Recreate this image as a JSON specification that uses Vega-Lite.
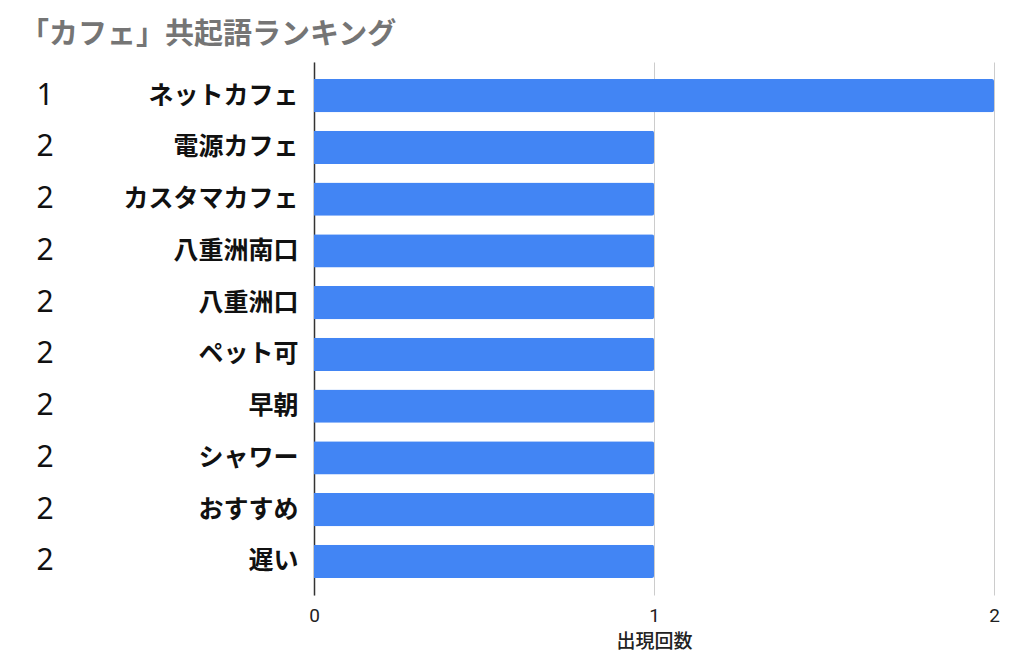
{
  "$schema": "https://vega.github.io/schema/vega-lite/v6.json",
  "width": 680,
  "height": 533,
  "autosize": {"type": "none"},
  "padding": {"left": 314, "top": 62, "right": 30, "bottom": 61},
  "background": "white",
  "title": {
    "text": "「カフェ」共起語ランキング",
    "anchor": "start",
    "frame": "group",
    "dx": -294,
    "offset": 12,
    "font": "Noto Sans CJK JP",
    "fontSize": 29,
    "fontWeight": "bold",
    "color": "#757575"
  },
  "data": {
    "values": [
      {"key": "1|ネットカフェ", "rank": 1, "term": "ネットカフェ", "count": 2},
      {"key": "2|電源カフェ", "rank": 2, "term": "電源カフェ", "count": 1},
      {"key": "2|カスタマカフェ", "rank": 2, "term": "カスタマカフェ", "count": 1},
      {"key": "2|八重洲南口", "rank": 2, "term": "八重洲南口", "count": 1},
      {"key": "2|八重洲口", "rank": 2, "term": "八重洲口", "count": 1},
      {"key": "2|ペット可", "rank": 2, "term": "ペット可", "count": 1},
      {"key": "2|早朝", "rank": 2, "term": "早朝", "count": 1},
      {"key": "2|シャワー", "rank": 2, "term": "シャワー", "count": 1},
      {"key": "2|おすすめ", "rank": 2, "term": "おすすめ", "count": 1},
      {"key": "2|遅い", "rank": 2, "term": "遅い", "count": 1}
    ]
  },
  "config": {"view": {"stroke": null}},
  "layer": [
    {
      "mark": {"type": "bar", "color": "#4285F4", "cornerRadiusEnd": 2},
      "encoding": {
        "y": {
          "field": "key",
          "type": "nominal",
          "sort": null,
          "scale": {"paddingInner": 0.36, "paddingOuter": 0.33},
          "axis": {
            "title": null,
            "orient": "left",
            "labelExpr": "split(datum.value, '|')[1]",
            "ticks": false,
            "labelPadding": 16,
            "labelFont": "Noto Sans CJK JP",
            "labelFontSize": 25,
            "labelFontWeight": "bold",
            "labelColor": "#111111",
            "domainColor": "#333333",
            "domainWidth": 1.5,
            "grid": false
          }
        },
        "x": {
          "field": "count",
          "type": "quantitative",
          "scale": {"domain": [0, 2], "nice": false},
          "axis": {
            "title": "出現回数",
            "tickCount": 2,
            "tickMinStep": 1,
            "ticks": false,
            "domain": false,
            "grid": true,
            "gridColor": "#cccccc",
            "gridWidth": 1,
            "labelFlush": false,
            "labelOverlap": false,
            "labelPadding": 11,
            "labelFont": "Roboto",
            "labelFontSize": 19,
            "labelColor": "#222222",
            "titleFont": "Noto Sans CJK JP",
            "titleFontSize": 19,
            "titleFontWeight": 500,
            "titleColor": "#222222",
            "titlePadding": 7
          }
        }
      }
    },
    {
      "mark": {"type": "bar", "opacity": 0},
      "encoding": {
        "y": {
          "field": "key",
          "type": "nominal",
          "sort": null,
          "axis": {
            "title": null,
            "orient": "left",
            "labelExpr": "split(datum.value, '|')[0]",
            "ticks": false,
            "domain": false,
            "labelAlign": "left",
            "labelPadding": 278,
            "labelFont": "Noto Sans",
            "labelFontSize": 30,
            "labelColor": "#111111",
            "grid": false
          }
        }
      }
    }
  ],
  "resolve": {"axis": {"y": "independent"}}
}
